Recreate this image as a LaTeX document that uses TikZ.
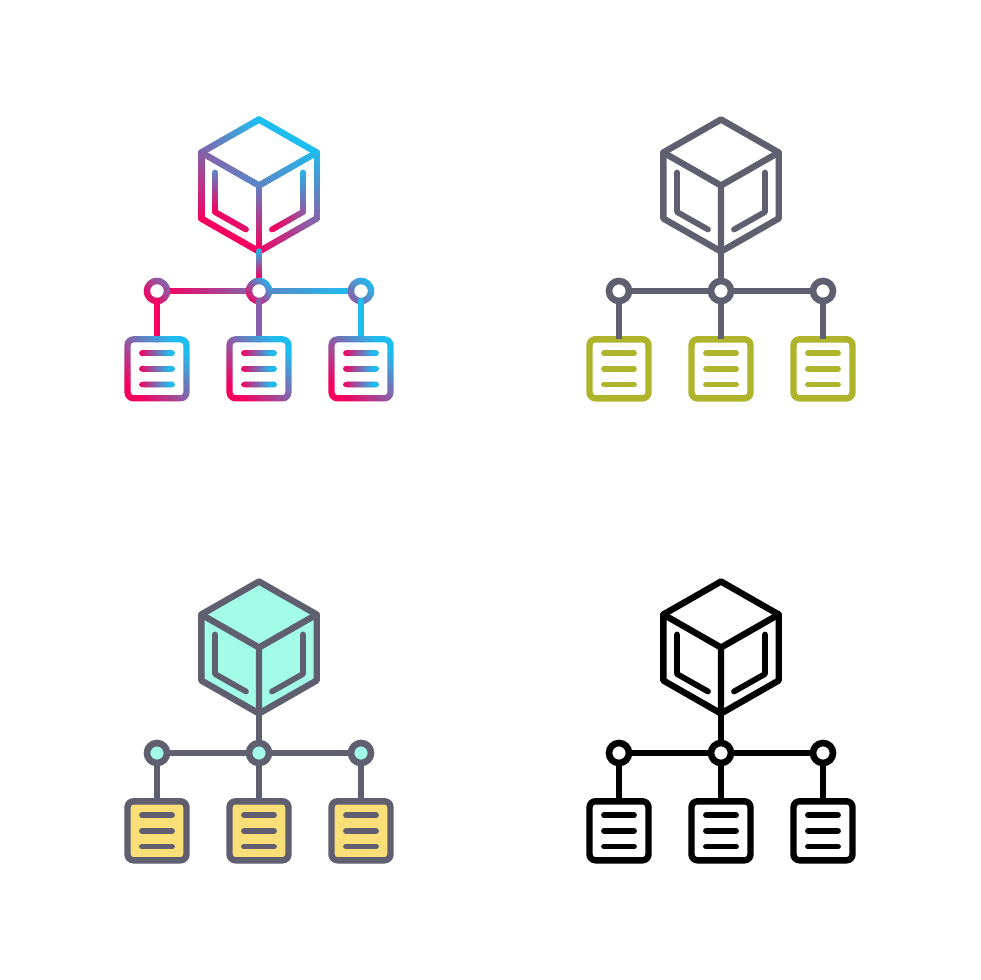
\documentclass[tikz,border=0pt]{standalone}
\usetikzlibrary{calc}
\definecolor{gpink}{HTML}{F5005F}
\definecolor{gblue}{HTML}{1EBDF0}
\definecolor{slate}{HTML}{5F5F70}
\definecolor{olive}{HTML}{AEB42C}
\definecolor{mint}{HTML}{A2FCE8}
\definecolor{sand}{HTML}{FADF78}
\tikzset{
  x=1pt,y=-1pt,
  mainline/.style={line width=6.4pt,line join=round,line cap=round},
  innerline/.style={line width=5.8pt,line join=round,line cap=round},
  hubnode/.style={circle,minimum size=20pt,inner sep=0pt,outer sep=0pt},
  docnode/.style={rectangle,minimum size=59pt,inner sep=0pt,outer sep=0pt},
}
% straight stroke whose colour runs from t=#4 to t=#5 (0 pink, 1 blue)
\newcommand\gseg[5][mainline]{%
  \foreach \i in {1,...,24}{%
    \pgfmathsetmacro\ta{(\i-1)/24}%
    \pgfmathsetmacro\tb{\i/24}%
    \pgfmathsetmacro\pp{100*(#4+(#5-#4)*(\i-0.5)/24)}%
    \draw[#1,draw=gblue!\pp!gpink] ($(#2)!\ta!(#3)$) -- ($(#2)!\tb!(#3)$);%
  }%
}
% cube corners and inner strokes
\newcommand\cubepoints{%
  \coordinate (A) at (259,581.5);
  \coordinate (R1) at (316.7,614.5);
  \coordinate (R2) at (316.7,680.5);
  \coordinate (B) at (259,713.5);
  \coordinate (L2) at (201.3,680.5);
  \coordinate (L1) at (201.3,614.5);
  \coordinate (C) at (259,647.5);
  \coordinate (P1) at (215,634.5);
  \coordinate (P2) at (215,674);
  \coordinate (P3) at (246,691.5);
  \coordinate (Q1) at (303,634.5);
  \coordinate (Q2) at (303,674);
  \coordinate (Q3) at (272,691.5);
}
\newcommand\netnodes[1]{%
  \node[hubnode,#1] (c1) at (157,753) {};
  \node[hubnode,#1] (c2) at (259,753) {};
  \node[hubnode,#1] (c3) at (361,753) {};
}
\newcommand\solidicon[7]{% dx, dy, line, doc line, cube fill, hub fill, doc fill
  \begin{scope}[shift={(#1,#2)}]
    \cubepoints
    \fill[#5] (A)--(R1)--(R2)--(B)--(L2)--(L1)--cycle;
    \draw[mainline,draw=#3] (A)--(R1)--(R2)--(B)--(L2)--(L1)--cycle;
    \draw[mainline,draw=#3] (L1)--(C)--(R1) (C)--(B);
    \draw[innerline,draw=#3] (P1)--(P2)--(P3) (Q1)--(Q2)--(Q3);
    \netnodes{draw=#3,line width=6.6pt,fill=#6}
    \draw[mainline,line cap=butt,draw=#3] (B)--(c2.north) (c1.east)--(c2.west) (c2.east)--(c3.west);
    \foreach \n/\x in {1/157,2/259,3/361}{
      \node[docnode,draw=#4,line width=6.4pt,rounded corners=6pt,fill=#7] (d\n) at (\x,830.8) {};
      \draw[mainline,line cap=butt,draw=#3] (c\n.south)--(d\n.north);
      \foreach \yy in {-15.7,0,15.7}{
        \draw[mainline,line width=5.8pt,draw=#4] ($(d\n.center)+(-15,\yy)$)--($(d\n.center)+(15,\yy)$);
      }
    }
  \end{scope}
}
\begin{document}
\begin{tikzpicture}
\useasboundingbox (0,0) rectangle (980,980);
\fill[white] (0,0) rectangle (980,980);

% gradient icon
\begin{scope}[shift={(0,-462)}]
  \cubepoints
  \gseg{L1}{C}{0.5}{0.72}
  \gseg{R1}{C}{1}{0.72}
  \gseg{C}{B}{0.72}{0}
  \gseg{L2}{L1}{0}{0.5}
  \gseg{L1}{A}{0.5}{1}
  \gseg{A}{R1}{1}{1}
  \gseg{R1}{R2}{1}{0.55}
  \gseg{B}{R2}{0}{0.55}
  \gseg{L2}{B}{0}{0}
  \gseg[innerline]{P1}{P2}{0.72}{0.03}
  \gseg[innerline]{P2}{P3}{0.03}{0.08}
  \gseg[innerline]{Q1}{Q2}{0.95}{0.5}
  \gseg[innerline]{Q2}{Q3}{0.5}{0}
  \netnodes{}
  \gseg{B}{c2.north}{1}{0}
  \gseg{c1.east}{c2.west}{0}{0.5}
  \gseg{c2.east}{c3.west}{0.72}{1}
  \foreach \n/\x/\pa/\pb in {1/157/0/55,2/259/5/95,3/361/50/100}{
    \shade[even odd rule,left color=gblue!\pa!gpink,right color=gblue!\pb!gpink,shading angle=135]
      (c\n) circle (13.3) (c\n) circle (6.8);
    \node[docnode] (d\n) at (\x,830.8) {};
  }
  \gseg{c1.south}{d1.north}{0}{0}
  \gseg{c2.south}{d2.north}{0.5}{0.5}
  \gseg{c3.south}{d3.north}{1}{1}
  \foreach \n in {1,2,3}{
    \shade[even odd rule,left color=gpink,right color=gblue,shading angle=135]
      [rounded corners=9] ($(d\n.south west)+(-3.1,3.1)$) rectangle ($(d\n.north east)+(3.1,-3.1)$)
      [rounded corners=3] ($(d\n.south west)+(3.1,-3.1)$) rectangle ($(d\n.north east)+(-3.1,3.1)$);
    \foreach \yy in {-15.7,0,15.7}{
      \coordinate (ls) at ($(d\n.center)+(-15,\yy)$);
      \coordinate (le) at ($(d\n.center)+(15,\yy)$);
      \gseg[mainline,line width=5.8pt]{ls}{le}{0}{1}
    }
  }
\end{scope}

\solidicon{462}{-462}{slate}{olive}{white}{white}{white}
\solidicon{0}{0}{slate}{slate}{mint}{mint}{sand}
\solidicon{462}{0}{black}{black}{white}{white}{white}
\end{tikzpicture}
\end{document}
